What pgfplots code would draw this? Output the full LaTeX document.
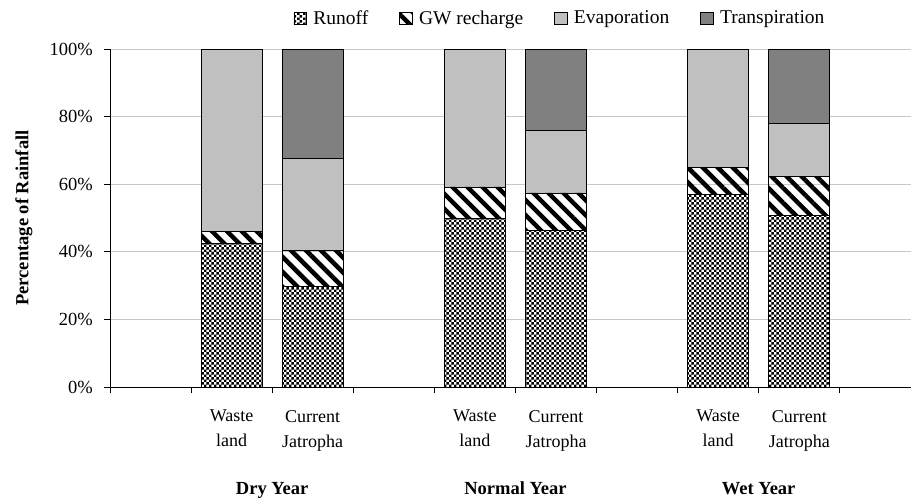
\documentclass[border=0pt]{standalone}
\usepackage{fontspec}
\setmainfont{Liberation Serif}
\usepackage{pgfplots}
\pgfplotsset{compat=1.18}
\usetikzlibrary{patterns,patterns.meta}

\pgfdeclarepatternformonly{smallchecker}{\pgfqpoint{0pt}{0pt}}{\pgfqpoint{5.4pt}{5.4pt}}{\pgfqpoint{5.4pt}{5.4pt}}{%
  \pgfpathrectangle{\pgfqpoint{0pt}{0pt}}{\pgfqpoint{2.7pt}{2.7pt}}%
  \pgfpathrectangle{\pgfqpoint{2.7pt}{2.7pt}}{\pgfqpoint{2.7pt}{2.7pt}}%
  \pgfusepath{fill}}

\definecolor{evap}{RGB}{192,192,192}
\definecolor{transp}{RGB}{128,128,128}
\definecolor{gridc}{RGB}{200,200,200}

\begin{document}
\begin{tikzpicture}[x=1pt,y=1pt]
\useasboundingbox (0,0) rectangle (911,-499);
\begin{axis}[
  at={(110pt,-387pt)}, anchor=south west,
  scale only axis, width=801pt, height=338pt,
  ybar stacked, bar width=61pt,
  xmin=-0.5, xmax=9.378, ymin=0, ymax=100,
  clip=false,
  axis x line*=bottom, axis y line*=left,
  axis line style={black, line width=0.8pt, -},
  tick align=outside,
  major tick length=6pt,
  tick style={black, line width=0.8pt},
  xtick={-0.5,0.5,...,8.5}, xticklabels={},
  extra x ticks={1,2,4,5,7,8},
  extra x tick labels={{Waste\\land},{Current\\Jatropha},{Waste\\land},{Current\\Jatropha},{Waste\\land},{Current\\Jatropha}},
  extra x tick style={major tick length=0pt},
  xticklabel style={align=center, font=\fontsize{18}{25}\selectfont, anchor=north, inner sep=0pt, yshift=-23pt},
  ytick={0,20,...,100},
  yticklabel={\pgfmathprintnumber{\tick}\%},
  /pgf/number format/assume math mode=true,
  yticklabel style={font=\fontsize{18.5}{20}\selectfont, anchor=east, inner sep=0pt, xshift=-11pt},
  ymajorgrids,
  major grid style={gridc, line width=0.8pt},
  ylabel={Percentage of Rainfall},
  ylabel style={at={(axis description cs:-0.1074,0.5)}, anchor=center, rotate=0, font=\fontsize{18.5}{20}\selectfont\bfseries},
  legend columns=4,
  legend style={at={(0.5618,1.0917)}, anchor=center, draw=none, fill=none,
    font=\fontsize{19.5}{21}\selectfont, inner sep=0pt,
    /tikz/every odd column/.append style={column sep=4.5pt},
    /tikz/every even column/.append style={column sep=29pt}},
  legend image code/.code={\draw[#1, draw=black, line width=0.8pt] (0pt,-6pt) rectangle (12.5pt,6pt);},
]
\addplot[draw=black, line width=0.8pt, pattern=smallchecker] coordinates {(1,42.4) (2,29.7) (4,50.0) (5,46.2) (7,56.9) (8,50.7)};
\addplot[draw=black, line width=0.8pt, pattern={Lines[angle=-45,distance=10.6pt,line width=4.5pt]}] coordinates {(1,3.5) (2,10.6) (4,9.2) (5,11.2) (7,8.1) (8,11.6)};
\addplot[draw=black, line width=0.8pt, fill=evap] coordinates {(1,54.1) (2,27.3) (4,40.8) (5,18.4) (7,35.0) (8,15.8)};
\addplot[draw=black, line width=0.8pt, fill=transp] coordinates {(1,0) (2,32.4) (4,0) (5,24.2) (7,0) (8,21.9)};
\legend{Runoff, GW recharge, Evaporation, Transpiration}
\node[font=\fontsize{18.5}{20}\selectfont\bfseries, anchor=base, yshift=-107pt] at (axis cs:1.5,0) {Dry Year};
\node[font=\fontsize{18.5}{20}\selectfont\bfseries, anchor=base, yshift=-107pt] at (axis cs:4.5,0) {Normal Year};
\node[font=\fontsize{18.5}{20}\selectfont\bfseries, anchor=base, yshift=-107pt] at (axis cs:7.5,0) {Wet Year};
\end{axis}
\end{tikzpicture}
\end{document}
